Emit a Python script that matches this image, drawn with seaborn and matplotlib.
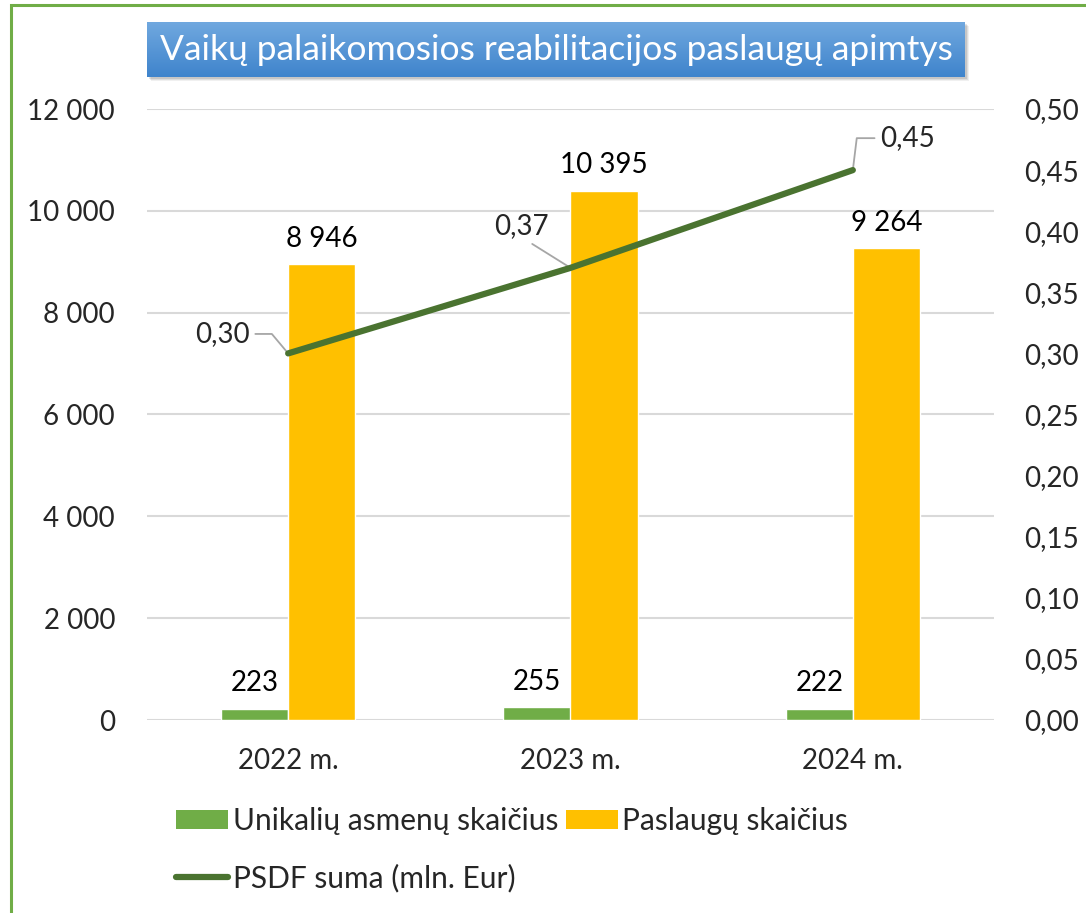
import matplotlib
matplotlib.use("Agg")
import matplotlib.pyplot as plt
import matplotlib.patches as mpatches
import matplotlib.ticker as ticker
from matplotlib.colors import LinearSegmentedColormap
from matplotlib.lines import Line2D
import seaborn as sns
import numpy as np
import pandas as pd

# ---------------------------------------------------------------------------
# Data
# ---------------------------------------------------------------------------
years = ["2022 m.", "2023 m.", "2024 m."]
persons = [223, 255, 222]          # Unikalių asmenų skaičius
services = [8946, 10395, 9264]     # Paslaugų skaičius
psdf = [0.30, 0.37, 0.45]          # PSDF suma (mln. Eur)

title = "Vaikų palaikomosios reabilitacijos paslaugų apimtys"
lbl_persons = "Unikalių asmenų skaičius"
lbl_services = "Paslaugų skaičius"
lbl_psdf = "PSDF suma (mln. Eur)"

GREEN = "#70ad47"
YELLOW = "#ffc000"
DARK_GREEN = "#4a7330"
GRID = "#d9d9d9"

sns.set_theme(style="white")
plt.rcParams["font.family"] = ["Lato", "DejaVu Sans"]
plt.rcParams["font.size"] = 20

W, H = 1086, 913
fig = plt.figure(figsize=(W / 100, H / 100), dpi=100)
fig.patch.set_facecolor("white")

# green frame (cut off at right/bottom edges)
fig.patches.append(mpatches.Rectangle(
    (11 / W, -0.05), 1.2, 1 - 5 / H + 0.05, transform=fig.transFigure,
    fill=False, edgecolor=GREEN, linewidth=2.2, zorder=0))

# ---------------------------------------------------------------------------
# Main axes
# ---------------------------------------------------------------------------
ax = fig.add_axes([147 / W, 1 - 720 / H, (994 - 147) / W, (720 - 109) / H])
df = pd.DataFrame({
    "year": years * 2,
    "series": [lbl_persons] * 3 + [lbl_services] * 3,
    "value": persons + services,
})
sns.barplot(data=df, x="year", y="value", hue="series",
            hue_order=[lbl_persons, lbl_services],
            palette=[GREEN, YELLOW], width=0.475, gap=0,
            saturation=1, ax=ax, legend=False, zorder=3)

fmt_int = lambda v: f"{v:,.0f}".replace(",", " ")
for cont in ax.containers:
    ax.bar_label(cont, labels=[fmt_int(b.get_height()) for b in cont],
                 padding=9, fontsize=20, color="black")

ax.set_ylim(0, 12000)
ax.set_xlim(-0.5, 2.5)
ax.yaxis.set_major_locator(ticker.MultipleLocator(2000))
ax.yaxis.set_major_formatter(ticker.FuncFormatter(lambda v, p: fmt_int(v)))
ax.grid(axis="y", color=GRID, linewidth=1.5, zorder=0)
ax.set_axisbelow(True)
for s in ax.spines.values():
    s.set_visible(False)
ax.set_xlabel("")
ax.set_ylabel("")
ax.tick_params(axis="y", length=0, pad=23, labelsize=20)
ax.tick_params(axis="x", length=0, pad=20, labelsize=20)

# ---------------------------------------------------------------------------
# Secondary axis with line
# ---------------------------------------------------------------------------
ax2 = ax.twinx()
sns.lineplot(x=years, y=psdf, ax=ax2, sort=False, color=DARK_GREEN,
             linewidth=4.5, solid_capstyle="round", zorder=5)
ax2.set_ylim(0, 0.5)
ax2.yaxis.set_major_locator(ticker.MultipleLocator(0.05))
ax2.yaxis.set_major_formatter(
    ticker.FuncFormatter(lambda v, p: f"{v:.2f}".replace(".", ",")))
ax2.tick_params(axis="y", length=0, pad=22, labelsize=20)
for s in ax2.spines.values():
    s.set_visible(False)
ax2.set_xlabel("")
ax2.set_ylabel("")
ax.set_xlim(-0.5, 2.5)

leader = dict(arrowstyle="-", color="#a6a6a6", lw=1.3, shrinkA=2, shrinkB=0)
fmt_dec = lambda v: f"{v:.2f}".replace(".", ",")
ax2.annotate(fmt_dec(psdf[0]), xy=(0, psdf[0]), xytext=(-28, 14),
             textcoords="offset points", ha="right", va="center", fontsize=20,
             arrowprops=dict(**leader, relpos=(1, 0.5),
                             connectionstyle="angle,angleA=0,angleB=130,rad=0"))
ax2.annotate(fmt_dec(psdf[1]), xy=(1, psdf[1]), xytext=(-35, 30),
             textcoords="offset points", ha="center", va="center", fontsize=20,
             arrowprops=dict(**leader, relpos=(0.55, 0)))
ax2.annotate(fmt_dec(psdf[2]), xy=(2, psdf[2]), xytext=(20, 23),
             textcoords="offset points", ha="left", va="center", fontsize=20,
             arrowprops=dict(**leader, relpos=(0, 0.5),
                             connectionstyle="angle,angleA=180,angleB=83,rad=0"))

# ---------------------------------------------------------------------------
# Title box with gradient and shadow
# ---------------------------------------------------------------------------
bx0, by0, bw, bh = 147 / W, 1 - 77 / H, (965 - 147) / W, 55 / H
for k, a in enumerate([0.10, 0.08, 0.06]):
    d = (k + 2) / W
    fig.patches.append(mpatches.Rectangle(
        (bx0 + d, by0 - (k + 2) / H), bw, bh, transform=fig.transFigure,
        facecolor="black", edgecolor="none", alpha=a, zorder=1))
tax = fig.add_axes([bx0, by0, bw, bh], zorder=2)
cmap = LinearSegmentedColormap.from_list("title", ["#70a8df", "#3f84cc"])
tax.imshow(np.linspace(0, 1, 64).reshape(-1, 1), cmap=cmap, aspect="auto",
           extent=[0, 1, 0, 1])
tax.set_axis_off()
tax.text(0.5, 0.5, title, ha="center", va="center", color="white",
         fontsize=25.5, transform=tax.transAxes)

# ---------------------------------------------------------------------------
# Legend
# ---------------------------------------------------------------------------
handles = [
    mpatches.Patch(facecolor=GREEN, edgecolor="none", label=lbl_persons),
    Line2D([], [], color=DARK_GREEN, linewidth=4.5, solid_capstyle="round",
           label=lbl_psdf),
    mpatches.Patch(facecolor=YELLOW, edgecolor="none", label=lbl_services),
]
fig.legend(handles=handles, ncol=2, loc="upper left",
           bbox_to_anchor=(176 / W, 1 - 807 / H), frameon=False,
           fontsize=21.5, handlelength=1.75, handleheight=0.62,
           handletextpad=0.15, columnspacing=0.25, labelspacing=0.95,
           borderpad=0, borderaxespad=0)

fig.savefig("out.png", dpi=100, facecolor="white")
